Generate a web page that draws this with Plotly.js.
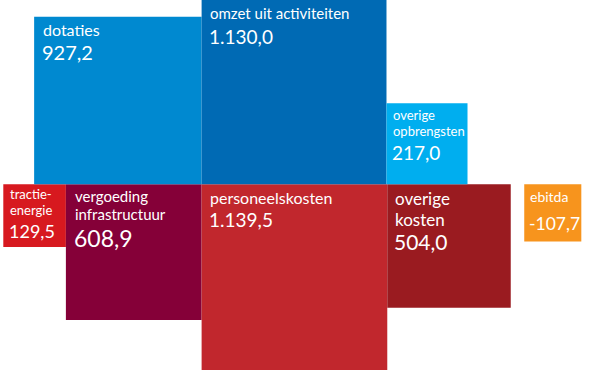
<!DOCTYPE html>
<html>
<head>
<meta charset="utf-8">
<script src="https://cdn.plot.ly/plotly-3.0.1.min.js"></script>
<style>html,body{margin:0;padding:0;background:#fff;}#chart{width:600px;height:370px;}</style>
</head>
<body>
<div id="chart"></div>
<script>
// ---- data ----
const incomeLabels = ['dotaties', 'omzet uit activiteiten', 'overige<br>opbrengsten'];
const incomeValues = [927.2, 1130.0, 217.0];
const costLabels = ['tractie-<br>energie', 'vergoeding<br>infrastructuur', 'personeelskosten', 'overige<br>kosten'];
const costValues = [129.5, 608.9, 1139.5, 504.0];
const resultLabel = 'ebitda';
const resultValue = -107.7;

// ---- styles ----
const incomeColors = ['#0089D0', '#006AB4', '#00AEEF'];
const costColors = ['#D7191F', '#850038', '#C1272D', '#9A1B20'];
const resultColor = '#F7941D';
// per box: [labelSize, lineGap, labelBaseline, valueSize, valueBaseline, padX]
const incomeText = [[16, 16, 18, 20, 42, 7.5], [15, 16, 18, 19, 43, 7], [13, 16, 15.5, 19, 55, 5.5]];
const costText = [[13, 16, 13.5, 18, 52, 5.5], [15, 18.5, 16.2, 23, 61.5, 8], [16, 16, 18, 19, 40.7, 7], [17, 21, 19.5, 21, 64.5, 7]];
const resultText = [14, 14, 16.3, 17.5, 45, 4.5];

const K = 5.5;          // side length per sqrt(value)
const BASE_Y = 184.3;   // line between income and cost rows
const START_X = 3.3;
const RESULT_GAP = 13.5;
const FONT = 'Lato, "Open Sans", sans-serif';
const ASC = 0.97;

function fmt(v) {
  const neg = v < 0;
  const s = Math.abs(v).toFixed(1).split('.');
  const intPart = s[0].replace(/\B(?=(\d{3})+(?!\d))/g, '.');
  return (neg ? '-' : '') + intPart + ',' + s[1];
}
const side = v => K * Math.sqrt(Math.abs(v));

const boxes = [];
// cost row (hanging below baseline)
let x = START_X;
const costLeft = [];
costValues.forEach((v, i) => {
  const s = side(v);
  costLeft.push(x);
  boxes.push({x0: x, x1: x + s, y0: BASE_Y, y1: BASE_Y + s, color: costColors[i], label: costLabels[i], value: v, st: costText[i]});
  x += s;
});
// result
{
  const s = side(resultValue);
  const x0 = x + RESULT_GAP;
  boxes.push({x0: x0, x1: x0 + s, y0: BASE_Y, y1: BASE_Y + s, color: resultColor, label: resultLabel, value: resultValue, st: resultText});
}
// income row (standing on baseline), main income aligned with largest cost
{
  const mainLeft = costLeft[2];
  const sMain = side(incomeValues[1]);
  const s0 = side(incomeValues[0]);
  const s2 = side(incomeValues[2]);
  const lefts = [mainLeft - s0, mainLeft, mainLeft + sMain];
  [s0, sMain, s2].forEach((s, i) => {
    boxes.push({x0: lefts[i], x1: lefts[i] + s, y0: BASE_Y - s, y1: BASE_Y, color: incomeColors[i], label: incomeLabels[i], value: incomeValues[i], st: incomeText[i]});
  });
}

const traces = boxes.map(b => ({
  type: 'scatter', mode: 'lines',
  x: [b.x0, b.x1, b.x1, b.x0, b.x0],
  y: [b.y0, b.y0, b.y1, b.y1, b.y0],
  fill: 'toself', fillcolor: b.color,
  line: {width: 0, color: b.color},
  hoverinfo: 'skip', showlegend: false
}));

const annotations = [];
boxes.forEach(b => {
  const [ls, gap, lb, vs, vb, px] = b.st;
  const top = b.y0;
  b.label.split('<br>').forEach((line, j) => {
    annotations.push({
      x: b.x0 + px, y: top + lb + j * gap - ASC * ls,
      xref: 'x', yref: 'y', xanchor: 'left', yanchor: 'top',
      text: line, showarrow: false, borderpad: 0,
      font: {family: FONT, size: ls, color: '#ffffff'}
    });
  });
  annotations.push({
    x: b.x0 + px - 1, y: top + vb - ASC * vs,
    xref: 'x', yref: 'y', xanchor: 'left', yanchor: 'top',
    text: fmt(b.value), showarrow: false, borderpad: 0,
    font: {family: FONT, size: vs, color: '#ffffff'}
  });
});

const layout = {
  width: 600, height: 370, autosize: false,
  margin: {l: 0, r: 0, t: 0, b: 0, pad: 0},
  paper_bgcolor: '#ffffff', plot_bgcolor: '#ffffff',
  xaxis: {range: [0, 600], visible: false, fixedrange: true},
  yaxis: {range: [370, 0], visible: false, fixedrange: true},
  annotations: annotations,
  showlegend: false
};

Plotly.newPlot('chart', traces, layout, {staticPlot: true, displayModeBar: false});
</script>
</body>
</html>
